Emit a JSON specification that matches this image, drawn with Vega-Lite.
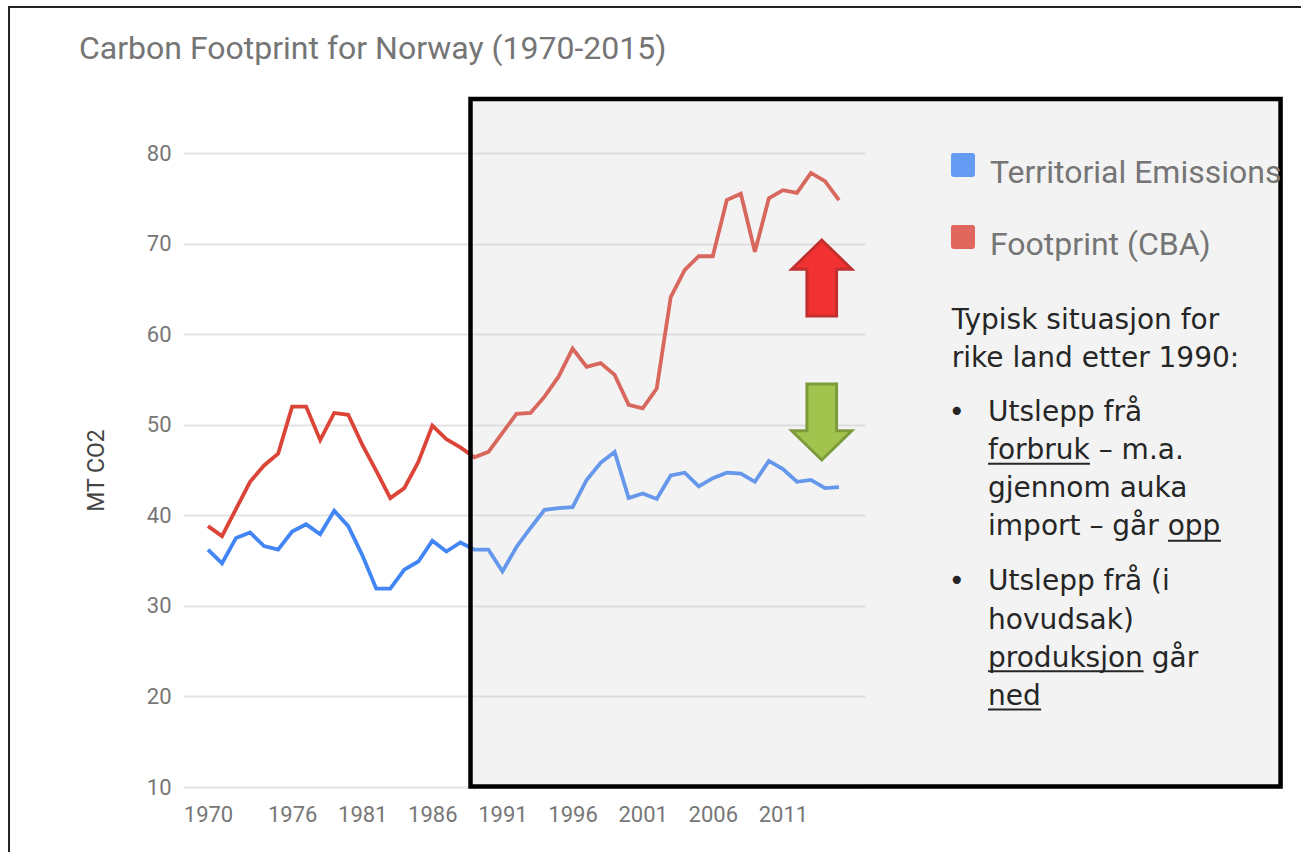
{
  "$schema": "https://vega.github.io/schema/vega-lite/v6.json",
  "width": 682,
  "height": 634,
  "autosize": {"type": "none"},
  "padding": {"left": 183, "top": 153, "right": 436, "bottom": 65},
  "background": "white",
  "title": {
    "text": "Carbon Footprint for Norway (1970-2015)",
    "anchor": "start",
    "frame": "group",
    "font": "Roboto",
    "fontSize": 32,
    "fontWeight": "normal",
    "color": "#757575",
    "dx": -104,
    "offset": -60
  },
  "config": {"view": {"stroke": null}},
  "datasets": {
    "emissions": [
      {"year": 1970, "Territorial Emissions": 36.2, "Footprint (CBA)": 38.8},
      {"year": 1971, "Territorial Emissions": 34.7, "Footprint (CBA)": 37.7},
      {"year": 1972, "Territorial Emissions": 37.5, "Footprint (CBA)": 40.7},
      {"year": 1973, "Territorial Emissions": 38.1, "Footprint (CBA)": 43.7},
      {"year": 1974, "Territorial Emissions": 36.6, "Footprint (CBA)": 45.5},
      {"year": 1975, "Territorial Emissions": 36.2, "Footprint (CBA)": 46.8},
      {"year": 1976, "Territorial Emissions": 38.2, "Footprint (CBA)": 52.0},
      {"year": 1977, "Territorial Emissions": 39.0, "Footprint (CBA)": 52.0},
      {"year": 1978, "Territorial Emissions": 37.9, "Footprint (CBA)": 48.3},
      {"year": 1979, "Territorial Emissions": 40.5, "Footprint (CBA)": 51.3},
      {"year": 1980, "Territorial Emissions": 38.8, "Footprint (CBA)": 51.1},
      {"year": 1981, "Territorial Emissions": 35.6, "Footprint (CBA)": 47.8},
      {"year": 1982, "Territorial Emissions": 31.9, "Footprint (CBA)": 44.9},
      {"year": 1983, "Territorial Emissions": 31.9, "Footprint (CBA)": 41.9},
      {"year": 1984, "Territorial Emissions": 34.0, "Footprint (CBA)": 43.0},
      {"year": 1985, "Territorial Emissions": 34.9, "Footprint (CBA)": 45.9},
      {"year": 1986, "Territorial Emissions": 37.2, "Footprint (CBA)": 49.9},
      {"year": 1987, "Territorial Emissions": 36.0, "Footprint (CBA)": 48.4},
      {"year": 1988, "Territorial Emissions": 37.0, "Footprint (CBA)": 47.5},
      {"year": 1989, "Territorial Emissions": 36.2, "Footprint (CBA)": 46.4},
      {"year": 1990, "Territorial Emissions": 36.2, "Footprint (CBA)": 47.0},
      {"year": 1991, "Territorial Emissions": 33.8, "Footprint (CBA)": 49.1},
      {"year": 1992, "Territorial Emissions": 36.5, "Footprint (CBA)": 51.2},
      {"year": 1993, "Territorial Emissions": 38.6, "Footprint (CBA)": 51.3},
      {"year": 1994, "Territorial Emissions": 40.6, "Footprint (CBA)": 53.1},
      {"year": 1995, "Territorial Emissions": 40.8, "Footprint (CBA)": 55.3},
      {"year": 1996, "Territorial Emissions": 40.9, "Footprint (CBA)": 58.4},
      {"year": 1997, "Territorial Emissions": 43.9, "Footprint (CBA)": 56.4},
      {"year": 1998, "Territorial Emissions": 45.8, "Footprint (CBA)": 56.8},
      {"year": 1999, "Territorial Emissions": 47.0, "Footprint (CBA)": 55.5},
      {"year": 2000, "Territorial Emissions": 41.9, "Footprint (CBA)": 52.2},
      {"year": 2001, "Territorial Emissions": 42.4, "Footprint (CBA)": 51.8},
      {"year": 2002, "Territorial Emissions": 41.8, "Footprint (CBA)": 54.0},
      {"year": 2003, "Territorial Emissions": 44.4, "Footprint (CBA)": 64.1},
      {"year": 2004, "Territorial Emissions": 44.7, "Footprint (CBA)": 67.1},
      {"year": 2005, "Territorial Emissions": 43.2, "Footprint (CBA)": 68.6},
      {"year": 2006, "Territorial Emissions": 44.1, "Footprint (CBA)": 68.6},
      {"year": 2007, "Territorial Emissions": 44.7, "Footprint (CBA)": 74.8},
      {"year": 2008, "Territorial Emissions": 44.6, "Footprint (CBA)": 75.5},
      {"year": 2009, "Territorial Emissions": 43.7, "Footprint (CBA)": 69.1},
      {"year": 2010, "Territorial Emissions": 46.0, "Footprint (CBA)": 75.0},
      {"year": 2011, "Territorial Emissions": 45.1, "Footprint (CBA)": 75.9},
      {"year": 2012, "Territorial Emissions": 43.7, "Footprint (CBA)": 75.6},
      {"year": 2013, "Territorial Emissions": 43.9, "Footprint (CBA)": 77.8},
      {"year": 2014, "Territorial Emissions": 43.0, "Footprint (CBA)": 76.9},
      {"year": 2015, "Territorial Emissions": 43.1, "Footprint (CBA)": 74.8}
    ],
    "frame": [{"year": 1955.81, "year2": 2060, "value": 96.12, "value2": 0}],
    "box": [{"year": 1988.72, "year2": 2046.49, "value": 85.96, "value2": 10.06}],
    "upArrow": [{"year": 2013.77, "value": 66.2}],
    "downArrow": [{"year": 2013.77, "value": 50.3}],
    "notes": [
      {"year": 2023.04, "value": 60.61, "t": "Typisk situasjon for"},
      {"year": 2023.04, "value": 56.37, "t": "rike land etter 1990:"},
      {"year": 2022.81, "value": 50.41, "t": "•"},
      {"year": 2025.63, "value": 50.41, "t": "Utslepp frå"},
      {"year": 2025.63, "value": 46.21, "t": "forbruk – m.a."},
      {"year": 2025.63, "value": 42.02, "t": "gjennom auka"},
      {"year": 2025.63, "value": 37.80, "t": "import – går opp"},
      {"year": 2022.81, "value": 31.70, "t": "•"},
      {"year": 2025.63, "value": 31.70, "t": "Utslepp frå (i"},
      {"year": 2025.63, "value": 27.50, "t": "hovudsak)"},
      {"year": 2025.63, "value": 23.29, "t": "produksjon går"},
      {"year": 2025.63, "value": 19.08, "t": "ned"}
    ],
    "underlines": [
      {"year": 2025.63, "year2": 2032.90, "value": 45.68},
      {"year": 2038.46, "year2": 2042.24, "value": 37.18},
      {"year": 2025.63, "year2": 2036.72, "value": 22.78},
      {"year": 2025.63, "year2": 2029.41, "value": 18.57}
    ]
  },
  "encoding": {
    "x": {
      "field": "year",
      "type": "quantitative",
      "scale": {"domain": [1968.217, 2016.854], "nice": false, "zero": false},
      "axis": {
        "values": [1970, 1976, 1981, 1986, 1991, 1996, 2001, 2006, 2011],
        "format": "d",
        "title": null,
        "grid": false,
        "domain": false,
        "ticks": false,
        "tickSize": 0,
        "labelPadding": 17,
        "labelFont": "Roboto",
        "labelFontSize": 22,
        "labelColor": "#777777"
      }
    },
    "y": {
      "field": "value",
      "type": "quantitative",
      "scale": {"domain": [10, 80], "nice": false, "zero": false},
      "axis": {
        "values": [10, 20, 30, 40, 50, 60, 70, 80],
        "title": "MT CO2",
        "titleFont": "Roboto",
        "titleFontSize": 23,
        "titleFontWeight": "normal",
        "titleColor": "#444444",
        "titlePadding": 38,
        "domain": false,
        "ticks": false,
        "tickSize": 0,
        "labelPadding": 12,
        "labelFont": "Roboto",
        "labelFontSize": 22,
        "labelColor": "#777777",
        "gridColor": "#e3e3e3",
        "gridWidth": 2
      }
    }
  },
  "layer": [
    {
      "data": {"name": "frame"},
      "mark": {"type": "rect", "fill": null, "fillOpacity": 0, "stroke": "#222222", "strokeWidth": 2},
      "encoding": {"x2": {"field": "year2"}, "y2": {"field": "value2"}}
    },
    {
      "data": {"name": "emissions"},
      "transform": [{"fold": ["Territorial Emissions", "Footprint (CBA)"], "as": ["series", "value"]}],
      "mark": {"type": "line", "strokeWidth": 3.8, "strokeJoin": "miter"},
      "encoding": {
        "color": {
          "field": "series",
          "type": "nominal",
          "scale": {"domain": ["Territorial Emissions", "Footprint (CBA)"], "range": ["#4285F4", "#DB4437"]},
          "legend": {
            "orient": "none",
            "legendX": 764,
            "legendY": -4,
            "title": null,
            "padding": 0,
            "labelFont": "Roboto",
            "labelFontSize": 32,
            "labelColor": "#757575",
            "labelLimit": 600,
            "labelOffset": 11,
            "rowPadding": 32,
            "symbolType": "M-0.8,-1L0.8,-1Q1,-1 1,-0.8L1,0.8Q1,1 0.8,1L-0.8,1Q-1,1 -1,0.8L-1,-0.8Q-1,-1 -0.8,-1Z",
            "symbolSize": 576,
            "symbolStrokeWidth": 0,
            "symbolOpacity": 0.8,
            "encode": {
              "symbols": {"update": {"fill": {"scale": "color", "field": "value"}, "strokeWidth": {"value": 0}}},
              "labels": {"update": {"dy": {"value": 8}}}
            }
          }
        }
      }
    },
    {
      "data": {"name": "box"},
      "mark": {"type": "rect", "fill": "#d0d0d0", "fillOpacity": 0.25, "stroke": "#000000", "strokeWidth": 4.5},
      "encoding": {"x2": {"field": "year2"}, "y2": {"field": "value2"}}
    },
    {
      "data": {"name": "upArrow"},
      "mark": {
        "type": "point",
        "shape": "M0,-1L0.79,-0.23L0.39,-0.23L0.39,1L-0.39,1L-0.39,-0.23L-0.79,-0.23Z",
        "size": 5776,
        "filled": true,
        "fill": "#f23232",
        "fillOpacity": 1,
        "stroke": "#c12f2f",
        "strokeWidth": 3,
        "opacity": 1
      }
    },
    {
      "data": {"name": "downArrow"},
      "mark": {
        "type": "point",
        "shape": "M-0.39,-1L0.39,-1L0.39,0.23L0.79,0.23L0,1L-0.79,0.23L-0.39,0.23Z",
        "size": 5776,
        "filled": true,
        "fill": "#a2c44f",
        "fillOpacity": 1,
        "stroke": "#7c9c3c",
        "strokeWidth": 3,
        "opacity": 1
      }
    },
    {
      "data": {"name": "notes"},
      "mark": {"type": "text", "align": "left", "baseline": "alphabetic", "font": "DejaVu Sans", "fontSize": 28, "color": "#262626"},
      "encoding": {"text": {"field": "t", "type": "nominal"}}
    },
    {
      "data": {"name": "underlines"},
      "mark": {"type": "rule", "color": "#262626", "strokeWidth": 2},
      "encoding": {"x2": {"field": "year2"}}
    }
  ]
}
